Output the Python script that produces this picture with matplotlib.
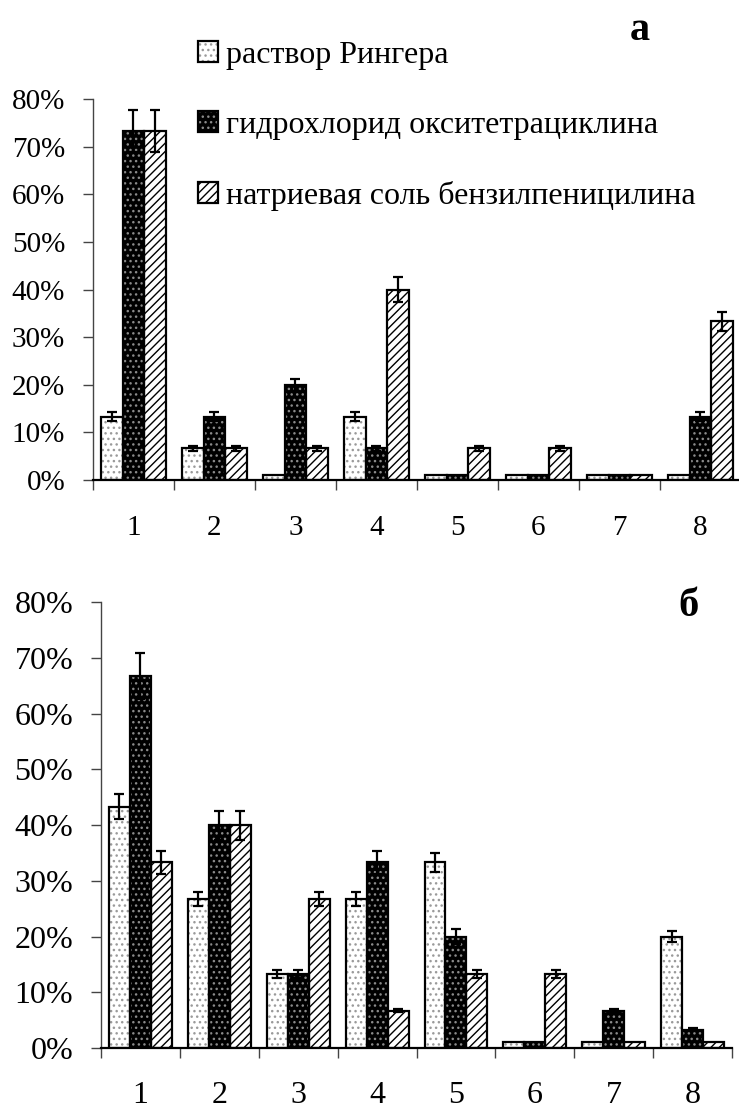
import matplotlib
matplotlib.use("Agg")
import matplotlib.pyplot as plt
from matplotlib.patches import Patch
from matplotlib.legend_handler import HandlerTuple
from matplotlib.ticker import FuncFormatter
import numpy as np

plt.rcParams['font.family'] = ['Liberation Serif', 'DejaVu Serif']
plt.rcParams['hatch.linewidth'] = 1.0

categories = ['1', '2', '3', '4', '5', '6', '7', '8']
series_names = ['раствор Рингера', 'гидрохлорид окситетрациклина',
                'натриевая соль бензилпеницилина']

# panel а
ringer_a = [13.3, 6.7, 1.0, 13.3, 1.0, 1.0, 1.0, 1.0]
oxy_a = [73.3, 13.3, 20.0, 6.7, 1.0, 1.0, 1.0, 13.3]
benz_a = [73.3, 6.7, 6.7, 40.0, 6.7, 6.7, 1.0, 33.3]
ringer_a_err = [1.0, 0.5, 0, 1.0, 0, 0, 0, 0]
oxy_a_err = [4.5, 1.0, 1.2, 0.5, 0, 0, 0, 1.0]
benz_a_err = [4.5, 0.5, 0.5, 2.6, 0.5, 0.5, 0, 2.0]

# panel б
ringer_b = [43.3, 26.7, 13.3, 26.7, 33.3, 1.0, 1.0, 20.0]
oxy_b = [66.7, 40.0, 13.3, 33.3, 20.0, 1.0, 6.7, 3.3]
benz_b = [33.3, 40.0, 26.7, 6.7, 13.3, 13.3, 1.0, 1.0]
ringer_b_err = [2.3, 1.3, 0.7, 1.3, 1.7, 0, 0, 1.0]
oxy_b_err = [4.1, 2.6, 0.7, 2.1, 1.3, 0, 0.3, 0.3]
benz_b_err = [2.1, 2.6, 1.3, 0.3, 0.7, 0.7, 0, 0]

# face colour, hatch, hatch colour for each series
styles = [('white', '...', '#9a9a9a'),
          ('black', '...', '#8a8a8a'),
          ('white', '////', 'black')]

fig = plt.figure(figsize=(7.39, 11.13), dpi=100)
ax_a = fig.add_axes([0.1258, 0.5687, 0.8769, 0.3423])
ax_b = fig.add_axes([0.1367, 0.0584, 0.8539, 0.4007])


def draw_panel(ax, data, errs, width, fsize, pad_x, pad_y):
    x = np.arange(len(categories)) + 0.5
    for i, (vals, err) in enumerate(zip(data, errs)):
        face, hatch, hcol = styles[i]
        pos = x + (i - 1) * width
        ax.bar(pos, vals, width, color=face, hatch=hatch, edgecolor=hcol,
               linewidth=0, zorder=2)
        ax.bar(pos, vals, width, fill=False, edgecolor='black',
               linewidth=1.6, zorder=3)
        e = np.array(err)
        m = e > 0
        ax.errorbar(pos[m], np.array(vals)[m], yerr=e[m], fmt='none',
                    ecolor='black', elinewidth=1.6, capsize=3.5,
                    capthick=1.6, zorder=4)
    ax.set_xlim(0, len(categories))
    ax.set_ylim(0, 80)
    ax.set_yticks(np.arange(0, 81, 10))
    ax.yaxis.set_major_formatter(FuncFormatter(lambda v, p: f'{v:.0f}%'))
    ax.set_xticks(np.arange(0, len(categories) + 1))
    ax.set_xticklabels([])
    ax.set_xticks(x, minor=True)
    ax.set_xticklabels(categories, minor=True)
    ax.tick_params(axis='x', which='minor', length=0, labelsize=fsize, pad=pad_x)
    ax.tick_params(axis='x', which='major', length=7, width=1, color='#444')
    ax.tick_params(axis='y', length=7, width=1, color='#444',
                   labelsize=fsize, pad=pad_y)
    for s in ['top', 'right']:
        ax.spines[s].set_visible(False)
    ax.spines['left'].set_color('#444')
    ax.spines['left'].set_linewidth(1)
    ax.spines['bottom'].set_color('black')
    ax.spines['bottom'].set_linewidth(1.6)


draw_panel(ax_a, [ringer_a, oxy_a, benz_a],
           [ringer_a_err, oxy_a_err, benz_a_err], 0.268, 21, 25, 13)
draw_panel(ax_b, [ringer_b, oxy_b, benz_b],
           [ringer_b_err, oxy_b_err, benz_b_err], 0.266, 23, 24, 13)

handles = []
for face, hatch, hcol in styles:
    handles.append((Patch(facecolor=face, hatch=hatch, edgecolor=hcol, linewidth=0),
                    Patch(fill=False, edgecolor='black', linewidth=1.6)))
fig.legend(handles, series_names, handler_map={tuple: HandlerTuple(ndivide=1, pad=0)},
           loc='upper left', bbox_to_anchor=(198 / 739, 1 - 41 / 1113),
           frameon=False, fontsize=23, handlelength=0.62, handleheight=0.62,
           handletextpad=0.25, labelspacing=1.28, borderpad=0, borderaxespad=0)

fig.text(640 / 739, 1 - 31 / 1113, 'а', fontsize=29, fontweight='bold',
         ha='center', va='center')
fig.text(688 / 739, 1 - 606 / 1113, 'б', fontsize=29, fontweight='bold',
         ha='center', va='center')

fig.savefig('out.png', dpi=100)
